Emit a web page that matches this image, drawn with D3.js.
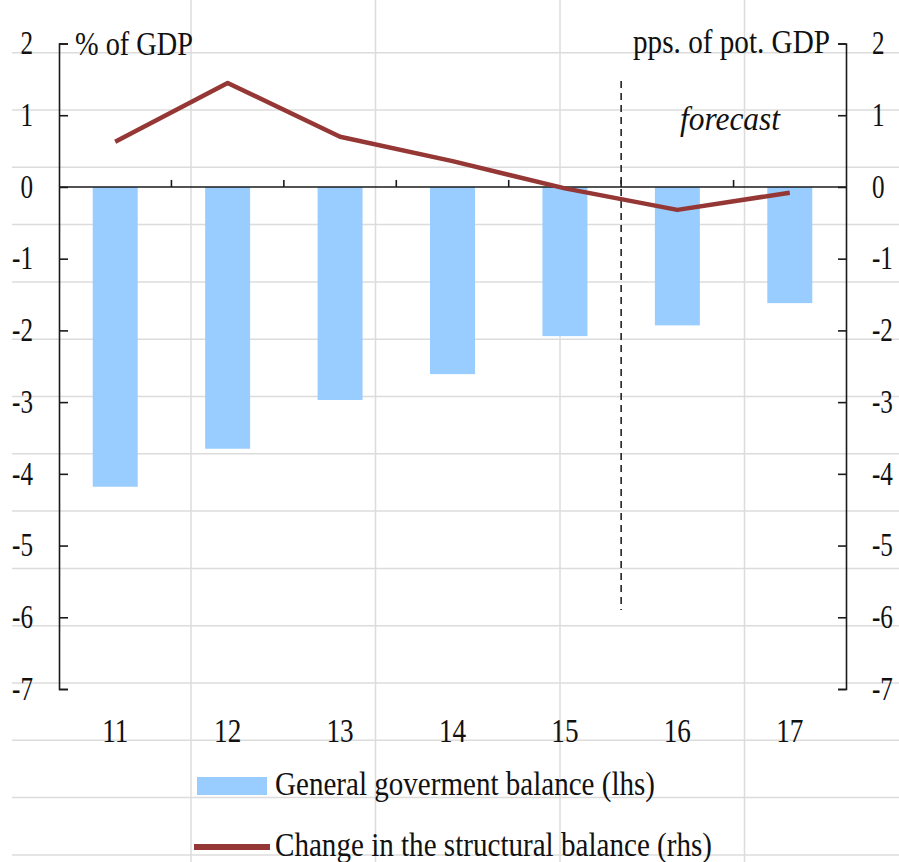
<!DOCTYPE html>
<html>
<head>
<meta charset="utf-8">
<script src="https://cdn.jsdelivr.net/npm/d3@7"></script>
<style>
  html, body { margin: 0; padding: 0; background: #fff; }
  svg { display: block; }
  text { font-family: "Liberation Serif", "Times New Roman", serif; fill: #111; }
</style>
</head>
<body>
<svg id="chart" width="899" height="862"></svg>
<script>
// ---- data ----
const categories = ["11", "12", "13", "14", "15", "16", "17"];
const govBalance = [-4.18, -3.65, -2.97, -2.61, -2.08, -1.93, -1.62];   // lhs, % of GDP
const structChange = [0.63, 1.45, 0.70, 0.36, -0.02, -0.32, -0.08];    // rhs, pps. of pot. GDP
const leftTicks = [2, 1, 0, -1, -2, -3, -4, -5, -6, -7];
const rightTicks = [2, 1, 0, -1, -2, -3, -4, -5, -6, -7];
const legendLabels = ["General goverment balance (lhs)", "Change in the structural balance (rhs)"];
const leftUnit = "% of GDP";
const rightUnit = "pps. of pot. GDP";
const forecastLabel = "forecast";
const forecastStart = "16";

// ---- layout ----
const svg = d3.select("#chart");
const W = 899, H = 862;
const plot = { left: 59, right: 846, top: 43.5, bottom: 689 };
const FS = 34, SX = 0.8, SXT = 0.74;
const barColor = "#99CCFF", lineColor = "#953735", axisColor = "#1a1a1a", gridColor = "#dcdcdc";
const fmt = d => String(d);   // plain hyphen-minus as in the reference

// background spreadsheet grid
const bg = svg.append("g");
bg.selectAll("line.h").data(d3.range(15)).join("line")
  .attr("x1", 12).attr("x2", W)
  .attr("y1", i => 52.7 + i * 57.3).attr("y2", i => 52.7 + i * 57.3)
  .attr("stroke", gridColor).attr("stroke-width", 1.5);
bg.selectAll("line.v").data(d3.range(4)).join("line")
  .attr("y1", 0).attr("y2", H)
  .attr("x1", i => 191 + i * 184.5).attr("x2", i => 191 + i * 184.5)
  .attr("stroke", gridColor).attr("stroke-width", 1.5);

// scales
const x = d3.scaleBand().domain(categories).range([plot.left, plot.right])
  .paddingInner(0.6).paddingOuter(0.3);
const yL = d3.scaleLinear().domain([-7, 2]).range([plot.bottom, plot.top]);
const yR = d3.scaleLinear().domain([-7, 2]).range([plot.bottom, plot.top]);

// horizontally condense a text in place (x position kept)
function condense(sel, factor, xPos) {
  sel.attr("x", xPos / factor).attr("transform", `scale(${factor},1)`);
}

// bars
svg.append("g").selectAll("rect").data(categories).join("rect")
  .attr("x", d => x(d))
  .attr("width", x.bandwidth())
  .attr("y", (d, i) => Math.min(yL(0), yL(govBalance[i])))
  .attr("height", (d, i) => Math.abs(yL(govBalance[i]) - yL(0)))
  .attr("fill", barColor);

// left axis
const axL = svg.append("g").attr("transform", `translate(${plot.left},0)`)
  .call(d3.axisLeft(yL).tickValues(leftTicks).tickSize(-9).tickPadding(26).tickFormat(fmt));
// right axis
const axR = svg.append("g").attr("transform", `translate(${plot.right},0)`)
  .call(d3.axisRight(yR).tickValues(rightTicks).tickSize(-8).tickPadding(27).tickFormat(fmt));
[axL, axR].forEach(ax => {
  ax.select(".domain").attr("stroke", axisColor).attr("stroke-width", 1.6);
  ax.selectAll(".tick line").attr("stroke", axisColor).attr("stroke-width", 1.6);
  ax.selectAll(".tick text").attr("font-family", "Liberation Serif").attr("font-size", FS)
    .attr("fill", "#111").attr("dy", "0.3em");
});
axL.selectAll(".tick text").attr("text-anchor", "end");
axR.selectAll(".tick text").attr("text-anchor", "start");
condense(axL.selectAll(".tick text"), SXT, -26);
condense(axR.selectAll(".tick text"), SXT, 26);

// zero line with upward ticks between categories
const zeroY = yL(0);
const gap = x.step() - x.bandwidth();
const zero = svg.append("g");
zero.append("line").attr("x1", plot.left).attr("x2", plot.right)
  .attr("y1", zeroY).attr("y2", zeroY).attr("stroke", axisColor).attr("stroke-width", 1.6);
zero.selectAll("line.t").data(categories.slice(1)).join("line")
  .attr("x1", d => x(d) - gap / 2).attr("x2", d => x(d) - gap / 2)
  .attr("y1", zeroY).attr("y2", zeroY - 7)
  .attr("stroke", axisColor).attr("stroke-width", 1.6);

// category labels
const axB = svg.append("g").attr("transform", `translate(0,${plot.bottom})`)
  .call(d3.axisBottom(x).tickSize(0).tickPadding(0));
axB.select(".domain").remove();
axB.selectAll(".tick text").attr("font-family", "Liberation Serif").attr("font-size", FS)
  .attr("fill", "#111").attr("y", 53).attr("dy", 0);
condense(axB.selectAll(".tick text"), SX, 0);

// forecast divider
const divX = x(forecastStart) - gap / 2;
svg.append("line").attr("x1", divX).attr("x2", divX).attr("y1", 81).attr("y2", 610)
  .attr("stroke", "#222").attr("stroke-width", 1.6).attr("stroke-dasharray", "7,5");

// structural balance line
const line = d3.line().x((d, i) => x(categories[i]) + x.bandwidth() / 2).y(d => yR(d));
svg.append("path").datum(structChange).attr("d", line)
  .attr("fill", "none").attr("stroke", lineColor).attr("stroke-width", 4.5)
  .attr("stroke-linejoin", "round");

// unit labels & forecast text
function label(txt, px, py, anchor, width, italic) {
  const t = svg.append("text").attr("x", px).attr("y", py).attr("text-anchor", anchor)
    .attr("font-size", FS).attr("font-style", italic ? "italic" : "normal").text(txt);
  t.attr("textLength", width).attr("lengthAdjust", "spacingAndGlyphs");
  return t;
}
label(leftUnit, 75, 55, "start", 118);
label(rightUnit, 830, 53, "end", 197);
label(forecastLabel, 730, 130, "middle", 100, true);

// legend
const lg = svg.append("g");
lg.append("rect").attr("x", 197).attr("y", 777).attr("width", 70).attr("height", 18).attr("fill", barColor);
lg.append("line").attr("x1", 194).attr("x2", 270).attr("y1", 847).attr("y2", 847)
  .attr("stroke", lineColor).attr("stroke-width", 6);
label(legendLabels[0], 275, 795, "start", 380);
label(legendLabels[1], 275, 856, "start", 437);
</script>
</body>
</html>
